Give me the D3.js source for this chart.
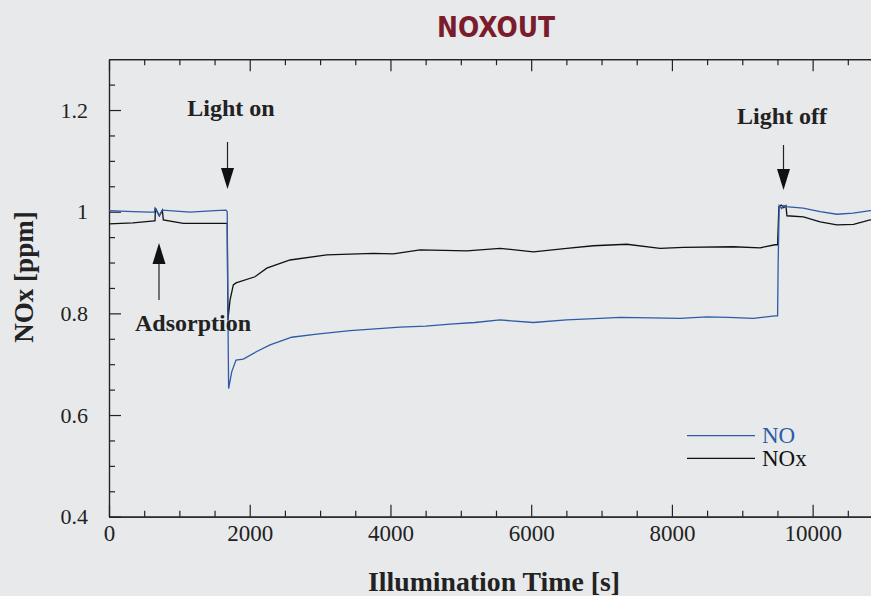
<!DOCTYPE html>
<html>
<head>
<meta charset="utf-8">
<script src="https://cdn.jsdelivr.net/npm/d3@7"></script>
<style>
  html, body { margin: 0; padding: 0; background: #e8e9eb; }
  svg { display: block; }
</style>
</head>
<body>
<svg id="chart"></svg>
<script>
// values
const noTime = [0, 341, 583, 645, 654, 715, 758, 1151, 1507, 1663, 1680, 1690, 1700, 1744, 1805, 1909, 2100, 2289, 2597, 2952, 3426, 4136, 4500, 4847, 5200, 5558, 6031, 6500, 6979, 7264, 7700, 8117, 8496, 8800, 9158, 9467, 9502, 9510, 9525, 9560, 9590, 9620, 9865, 10107, 10344, 10576, 10817, 11000];
const noValue = [1.002, 1.000, 0.999, 0.999, 1.007, 0.992, 1.003, 0.999, 1.002, 1.003, 1.000, 0.800, 0.652, 0.685, 0.708, 0.710, 0.725, 0.738, 0.753, 0.759, 0.766, 0.773, 0.775, 0.779, 0.782, 0.787, 0.782, 0.787, 0.790, 0.792, 0.791, 0.790, 0.793, 0.792, 0.790, 0.795, 0.795, 0.900, 1.012, 1.006, 1.012, 1.010, 1.007, 1.000, 0.995, 0.997, 1.002, 1.002];

const noxTime = [0, 341, 645, 654, 660, 715, 758, 772, 1056, 1293, 1649, 1680, 1690, 1720, 1767, 1805, 2075, 2242, 2573, 3094, 3757, 4041, 4421, 5085, 5558, 6031, 6506, 6884, 7359, 7832, 8163, 8874, 9254, 9467, 9502, 9520, 9555, 9590, 9620, 9635, 9869, 10107, 10344, 10581, 10817, 11000];
const noxValue = [0.976, 0.978, 0.982, 0.982, 1.007, 0.992, 1.003, 0.984, 0.977, 0.977, 0.977, 0.977, 0.787, 0.826, 0.856, 0.860, 0.872, 0.889, 0.905, 0.915, 0.918, 0.917, 0.925, 0.923, 0.928, 0.921, 0.928, 0.933, 0.936, 0.928, 0.930, 0.931, 0.929, 0.935, 0.935, 1.010, 1.013, 1.008, 1.012, 0.992, 0.990, 0.980, 0.974, 0.975, 0.984, 0.984];

const xTicks = [0, 2000, 4000, 6000, 8000, 10000];
const yTicks = [0.4, 0.6, 0.8, 1, 1.2];
const seriesNames = ["NO", "NOx"];
const seriesColors = ["#2e5ba8", "#111111"];

const width = 871, height = 596;
const svg = d3.select("#chart").attr("width", width).attr("height", height);

const x = d3.scaleLinear().domain([0, 11000]).range([109, 883]);
const y = d3.scaleLinear().domain([0.4, 1.3]).range([516.7, 59.2]);

const serif = "'Liberation Serif', 'Times New Roman', serif";

// title
svg.append("text")
  .attr("x", 496).attr("y", 37)
  .attr("text-anchor", "middle")
  .attr("font-family", "'DejaVu Sans Condensed', 'DejaVu Sans', sans-serif")
  .attr("font-weight", "bold")
  .attr("font-size", 29)
  .attr("textLength", 118)
  .attr("lengthAdjust", "spacingAndGlyphs")
  .attr("fill", "#7a1c2b")
  .text("NOXOUT");

// axes: minor then major ticks, pointing inward
const minorX = d3.range(0, 11001, 500).filter(d => d % 2000 !== 0);
const minorY = d3.range(0.45, 1.3, 0.05).filter(d => Math.abs(Math.round(d * 5) - d * 5) > 1e-6);

function styleAxis(g) {
  g.selectAll("path, line").attr("stroke", "#222").attr("stroke-width", 1.2);
}

svg.append("g").attr("transform", "translate(0,516.7)")
  .call(d3.axisBottom(x).tickValues(minorX).tickSize(-6).tickSizeOuter(0).tickFormat(""))
  .call(styleAxis);
svg.append("g").attr("transform", "translate(0,516.7)")
  .call(d3.axisBottom(x).tickValues(xTicks).tickSize(-12).tickSizeOuter(0).tickPadding(8).tickFormat(d3.format("d")))
  .call(styleAxis)
  .call(g => g.selectAll("text").attr("font-family", serif).attr("font-size", 23).attr("fill", "#222"));

svg.append("g").attr("transform", "translate(0,59.2)")
  .call(d3.axisTop(x).tickValues(minorX).tickSize(-6).tickSizeOuter(0).tickFormat(""))
  .call(styleAxis);
svg.append("g").attr("transform", "translate(0,59.2)")
  .call(d3.axisTop(x).tickValues(xTicks).tickSize(-12).tickSizeOuter(0).tickFormat(""))
  .call(styleAxis);

svg.append("g").attr("transform", "translate(109,0)")
  .call(d3.axisLeft(y).tickValues(minorY).tickSize(-6).tickSizeOuter(0).tickFormat(""))
  .call(styleAxis);
svg.append("g").attr("transform", "translate(109,0)")
  .call(d3.axisLeft(y).tickValues(yTicks).tickSize(-12).tickSizeOuter(0).tickPadding(21).tickFormat(d3.format("")))
  .call(styleAxis)
  .call(g => g.selectAll("text").attr("font-family", serif).attr("font-size", 22).attr("fill", "#222"));

// axis titles
svg.append("text")
  .attr("x", 494).attr("y", 591)
  .attr("text-anchor", "middle")
  .attr("font-family", serif).attr("font-weight", "bold").attr("font-size", 28)
  .attr("textLength", 252).attr("lengthAdjust", "spacingAndGlyphs")
  .attr("fill", "#222")
  .text("Illumination Time [s]");

svg.append("text")
  .attr("transform", "translate(33,277) rotate(-90)")
  .attr("text-anchor", "middle")
  .attr("font-family", serif).attr("font-weight", "bold").attr("font-size", 27)
  .attr("fill", "#222")
  .text("NOx [ppm]");

// lines
const line = d3.line().x(d => x(d[0])).y(d => y(d[1]));
const series = [
  d3.zip(noxTime, noxValue),
  d3.zip(noTime, noValue)
];
const plot = svg.append("g");
plot.append("path").datum(series[0])
  .attr("d", line).attr("fill", "none")
  .attr("stroke", seriesColors[1]).attr("stroke-width", 1.3);
plot.append("path").datum(series[1])
  .attr("d", line).attr("fill", "none")
  .attr("stroke", seriesColors[0]).attr("stroke-width", 1.3);

// annotations
function arrow(xp, y0, y1) {
  const dir = Math.sign(y1 - y0);
  svg.append("line")
    .attr("x1", xp).attr("x2", xp).attr("y1", y0).attr("y2", y1 - dir * 18)
    .attr("stroke", "#222").attr("stroke-width", 1.2);
  svg.append("path")
    .attr("d", `M${xp - 6.5},${y1 - dir * 21}L${xp + 6.5},${y1 - dir * 21}L${xp},${y1}Z`)
    .attr("fill", "#111");
}
function label(txt, xp, yp) {
  svg.append("text")
    .attr("x", xp).attr("y", yp).attr("text-anchor", "middle")
    .attr("font-family", serif).attr("font-weight", "bold").attr("font-size", 24)
    .attr("fill", "#222").text(txt);
}
label("Light on", 231, 116);
arrow(227.5, 142, 189);
label("Light off", 782, 124);
arrow(783.5, 145, 190);
label("Adsorption", 193, 331);
arrow(159, 300, 243);

// legend
const legend = svg.append("g");
seriesNames.forEach((name, i) => {
  const ly = 435.7 + i * 22.6;
  legend.append("line")
    .attr("x1", 687).attr("x2", 755).attr("y1", ly).attr("y2", ly)
    .attr("stroke", seriesColors[i]).attr("stroke-width", 1.3);
  legend.append("text")
    .attr("x", 762).attr("y", ly + 7.6)
    .attr("font-family", serif).attr("font-size", 23)
    .attr("fill", seriesColors[i]).text(name);
});
</script>
</body>
</html>
